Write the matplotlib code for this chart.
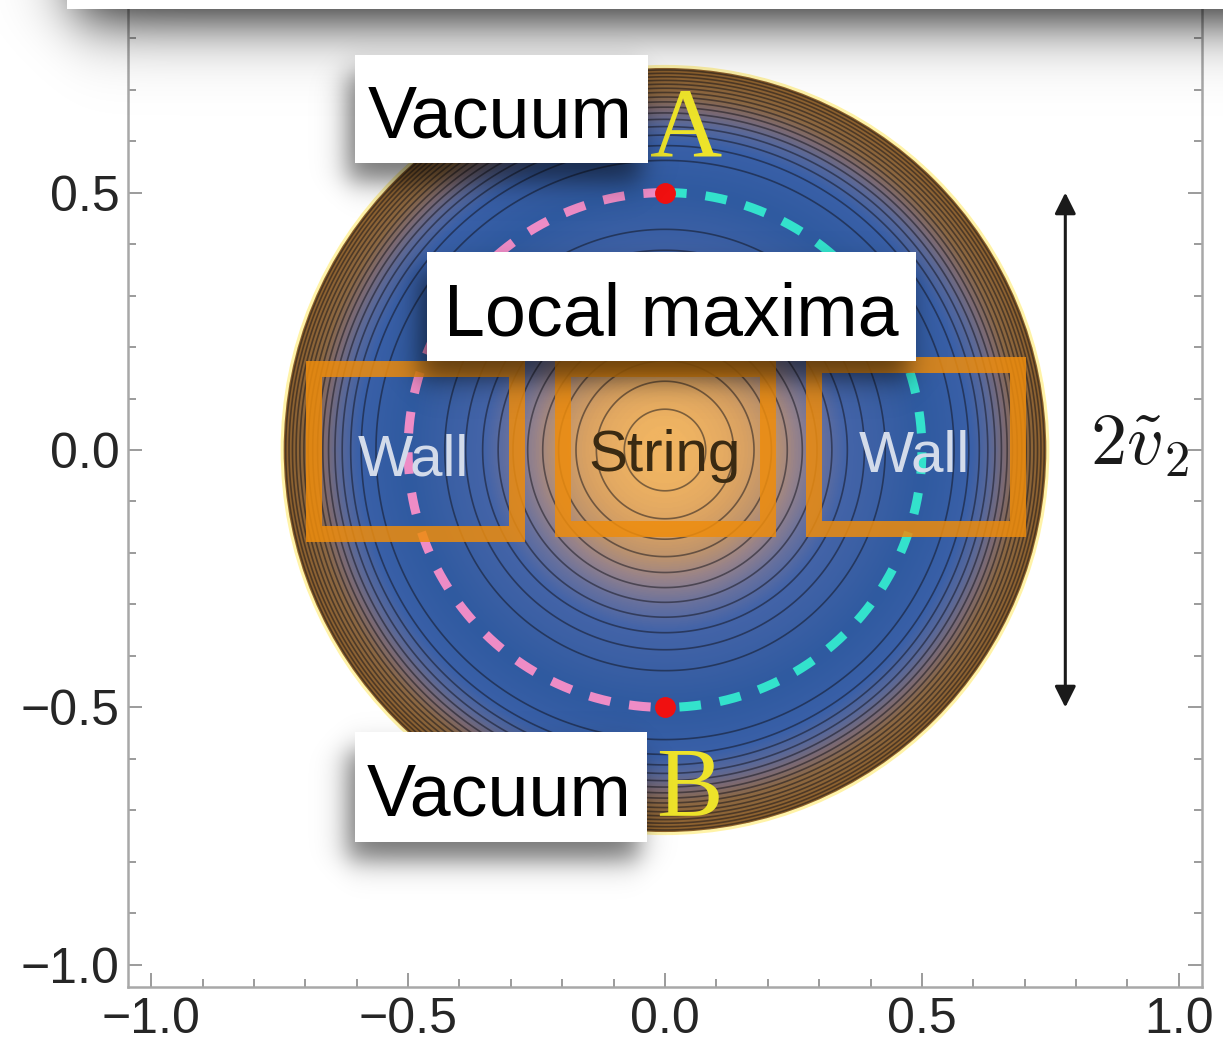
import numpy as np
import matplotlib.pyplot as plt
from matplotlib.colors import LinearSegmentedColormap
from matplotlib.patches import Rectangle, Circle
from matplotlib.ticker import MultipleLocator

plt.rcParams['font.family'] = ['Liberation Sans', 'DejaVu Sans']
plt.rcParams['mathtext.fontset'] = 'cm'

# potential V = (x^2 + y^2 - v2^2)^2, drawn inside r < r_edge
v2 = 0.5
r_edge = 0.745
level_step = 0.0055
level_ref = 0.0594

# vacua on the circle r = v2
vac_x = [0.0, 0.0]
vac_y = [v2, -v2]
vac_names = ['A', 'B']

xticks = [-1.0, -0.5, 0.0, 0.5, 1.0]
xtick_labels = ['\u22121.0', '\u22120.5', '0.0', '0.5', '1.0']
yticks = [-1.0, -0.5, 0.0, 0.5]
ytick_labels = ['\u22121.0', '\u22120.5', '0.0', '0.5']

# orange boxes: name, (x0, x1, y0, y1) of the frame centre line, text position
regions = ['Wall', 'String', 'Wall']
region_boxes = [(-0.684, -0.288, -0.163, 0.157),
                (-0.198, 0.200, -0.154, 0.157),
                (0.290, 0.686, -0.154, 0.165)]
region_text = [(-0.490, -0.049), (0.0, -0.041), (0.486, -0.041)]
region_colors = ['#d3dbea', '#3a2a12', '#d3dbea']

W, H = 1223, 1052
fig = plt.figure(figsize=(W / 100, H / 100), dpi=100)
ax = fig.add_axes([128 / W, 65 / H, 1074 / W, 1074 / H])
ax.set_xlim(-1.045, 1.045)
ax.set_ylim(-1.043, 1.043)

# colour follows s = r^2 - v2^2 (string core -> vacuum ring -> outer rim)
s_min = -v2**2
s_max = r_edge**2 - v2**2
cmap = LinearSegmentedColormap.from_list('pot', [
    (0.000, '#f0b462'), (0.040, '#daa262'), (0.075, '#bf946c'),
    (0.115, '#96828a'), (0.165, '#66709e'), (0.220, '#4464a8'),
    (0.450, '#2f5aa0'), (0.640, '#3a60a8'), (0.720, '#58689a'),
    (0.790, '#7c6a72'), (0.860, '#8c6842'), (1.000, '#8e602a')])

g = np.linspace(-0.76, 0.76, 901)
X, Y = np.meshgrid(g, g)
R = np.hypot(X, Y)
S = np.ma.masked_where(R > r_edge, R**2 - v2**2)
V = S**2
ax.imshow(S, extent=[g[0], g[-1], g[0], g[-1]], origin='lower', cmap=cmap,
          vmin=s_min, vmax=s_max, interpolation='bilinear', zorder=1)
levels = level_ref + level_step * np.arange(-10, 7)
ax.contour(X, Y, V, levels=levels, colors='#101018', linewidths=1.2,
           alpha=0.5, zorder=2)
ax.add_patch(Circle((0, 0), r_edge, fill=False, ec='#fff3a8', lw=2.2, zorder=3))
ax.set_aspect('auto')

# dashed vacuum circle: pink on the left half, cyan on the right
t_left = np.linspace(np.pi / 2, 3 * np.pi / 2, 400)
t_right = np.linspace(np.pi / 2, -np.pi / 2, 400)
ax.plot(v2 * np.cos(t_left), v2 * np.sin(t_left), color='#ee8cc6', lw=6.5,
        dashes=(2.4, 2.1), dash_capstyle='butt', zorder=4)
ax.plot(v2 * np.cos(t_right), v2 * np.sin(t_right), color='#33e2cc', lw=6.5,
        dashes=(2.4, 2.1), dash_capstyle='butt', zorder=4)
ax.plot(vac_x, vac_y, 'o', color='#f01010', ms=14, zorder=5)

for name, (x0, x1, y0, y1), (tx, ty), c in zip(regions, region_boxes,
                                                 region_text, region_colors):
    ax.add_patch(Rectangle((x0, y0), x1 - x0, y1 - y0, fill=False,
                           ec='#ee8c0c', lw=11.5, alpha=0.85, zorder=6))
    ax.text(tx, ty, name, ha='center', va='baseline', fontsize=42, color=c,
            zorder=7)

ax.text(0.041, 0.571, vac_names[0], ha='center', va='baseline', fontsize=72,
        family='Liberation Serif', color='#ede32a', zorder=7)
ax.text(0.047, -0.709, vac_names[1], ha='center', va='baseline', fontsize=72,
        family='Liberation Serif', color='#ede32a', zorder=7)

ax.annotate('', xy=(0.779, v2), xytext=(0.779, -v2),
            arrowprops=dict(arrowstyle='<|-|>', color='#1a1a1a', lw=2.2,
                            mutation_scale=32, shrinkA=0, shrinkB=0), zorder=7)
ax.text(0.923, -0.029, r'$2\tilde{v}_2$', ha='center', va='baseline',
        fontsize=52, color='#1a1a1a', zorder=7)

ax.set_xticks(xticks)
ax.set_xticklabels(xtick_labels)
ax.set_yticks(yticks)
ax.set_yticklabels(ytick_labels)
ax.xaxis.set_minor_locator(MultipleLocator(0.1))
ax.yaxis.set_minor_locator(MultipleLocator(0.1))
ax.tick_params(which='both', direction='in', top=True, right=True,
               color='#8a8a8a', width=1.2, labelsize=36, labelcolor='#262626')
ax.tick_params(which='major', length=10)
ax.tick_params(which='minor', length=6)
ax.tick_params(axis='x', pad=7)
ax.tick_params(axis='y', pad=6)
for s in ax.spines.values():
    s.set_color('#a8a8a8')
    s.set_linewidth(1.8)

# overlay in pixel units for the white labels and the banner with shadows
ov = fig.add_axes([0, 0, 1, 1], zorder=5)
ov.patch.set_alpha(0)
ov.axis('off')


def shadow(x0, y0, x1, y1, blur, alpha):
    pad = 3 * blur
    xs = np.arange(x0 - pad, x1 + pad)
    ys = np.arange(y0 - pad, y1 + pad)
    sx = 0.5 * (np.tanh((xs - x0) / blur) - np.tanh((xs - x1) / blur))
    sy = 0.5 * (np.tanh((ys - y0) / blur) - np.tanh((ys - y1) / blur))
    img = np.zeros((len(ys), len(xs), 4))
    img[..., 3] = alpha * np.outer(sy, sx)
    ov.imshow(img, extent=[x0 - pad, x1 + pad, y1 + pad, y0 - pad],
              interpolation='bilinear', aspect='auto', zorder=1)


shadow(75, -120, 1500, 20, 35, 0.9)
ov.add_patch(Rectangle((67, -60), 1300, 69, fc='white', ec='none', zorder=3))

labels = ['Vacuum', 'Local maxima', 'Vacuum']
label_boxes = [(355, 55, 648, 163), (427, 252, 916, 361), (355, 732, 647, 842)]
label_base = [(500, 138), (671, 335), (499, 815)]
for txt, (x0, y0, x1, y1), (tx, ty) in zip(labels, label_boxes, label_base):
    shadow(x0 - 8, y0 + 18, x1 - 8, y1 + 18, 16, 0.55)
    ov.add_patch(Rectangle((x0, y0), x1 - x0, y1 - y0, fc='white', ec='none',
                           zorder=3))
    ov.text(tx, ty, txt, ha='center', va='baseline', fontsize=53, color='black',
            zorder=4)

ov.set_xlim(0, W)
ov.set_ylim(H, 0)

fig.savefig('out.png', dpi=100)
